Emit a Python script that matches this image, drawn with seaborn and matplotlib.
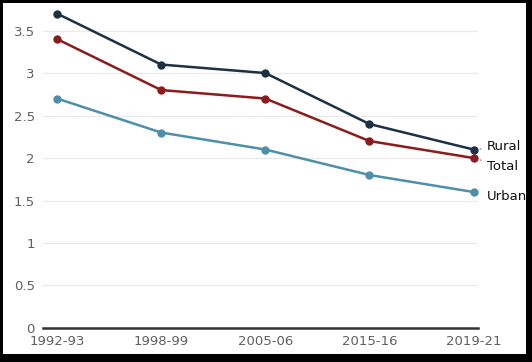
import matplotlib
matplotlib.use("Agg")
import matplotlib.pyplot as plt
import pandas as pd
import seaborn as sns
from matplotlib.patches import Rectangle

# survey rounds and fertility rates
years = ["1992-93", "1998-99", "2005-06", "2015-16", "2019-21"]
rural = [3.7, 3.1, 3.0, 2.4, 2.1]
total = [3.4, 2.8, 2.7, 2.2, 2.0]
urban = [2.7, 2.3, 2.1, 1.8, 1.6]
series_names = ["Rural", "Total", "Urban"]
colors = {"Rural": "#1c3144", "Total": "#8c1c1c", "Urban": "#4e8fab"}

df = pd.DataFrame({
    "year": years * 3,
    "value": rural + total + urban,
    "series": ["Rural"] * 5 + ["Total"] * 5 + ["Urban"] * 5,
})
df["pos"] = df["year"].map({y: i for i, y in enumerate(years)})

sns.set_style("white")
W, H = 532, 362
fig = plt.figure(figsize=(W / 100, H / 100), dpi=100)
ax = fig.add_axes([0.081, 0.094, 0.817, 0.892])

sns.lineplot(data=df, x="pos", y="value", hue="series", hue_order=series_names,
             palette=colors, marker="o", markersize=6, markeredgewidth=0,
             linewidth=1.8, legend=False, ax=ax)

ax.set_xlim(-0.134, 4.04)
ax.set_ylim(0, 3.8)
ax.set_yticks([0, 0.5, 1, 1.5, 2, 2.5, 3, 3.5])
ax.set_yticklabels(["0", "0.5", "1", "1.5", "2", "2.5", "3", "3.5"])
ax.set_xticks(range(len(years)))
ax.set_xticklabels(years)
ax.tick_params(axis="both", length=0, labelsize=9.5, labelcolor="#606060")
ax.tick_params(axis="x", pad=5)
ax.tick_params(axis="y", pad=6)
ax.set_xlabel("")
ax.set_ylabel("")
ax.grid(axis="y", color="#e8e8e8", linewidth=0.9)
ax.set_axisbelow(True)
for side in ["top", "right", "left"]:
    ax.spines[side].set_visible(False)
ax.spines["bottom"].set_color("#333333")
ax.spines["bottom"].set_linewidth(1.8)
ax.spines["bottom"].set_zorder(5)

# end labels with small leader lines
label_y = {"Rural": 2.13, "Total": 1.9, "Urban": 1.55}
last = {"Rural": rural[-1], "Total": total[-1], "Urban": urban[-1]}
for name in series_names:
    ax.annotate(name, xy=(4, last[name]), xytext=(4.13, label_y[name]),
                fontsize=9.5, color="#111111", va="center", ha="left",
                annotation_clip=False,
                arrowprops=dict(arrowstyle="-", linestyle=":", color="#777777",
                                lw=0.8, shrinkA=2, shrinkB=4) if name != "Urban" else None)

# black frame around the figure (thicker at right and bottom)
for x0, y0, w, h in [(0, 0, 3, H), (0, H - 3, W, 3), (W - 6, 0, 6, H), (0, 0, W, 8)]:
    fig.patches.append(Rectangle((x0 / W, y0 / H), w / W, h / H, transform=fig.transFigure,
                                 facecolor="black", edgecolor="none", zorder=10))

fig.savefig("out.png", dpi=100)
